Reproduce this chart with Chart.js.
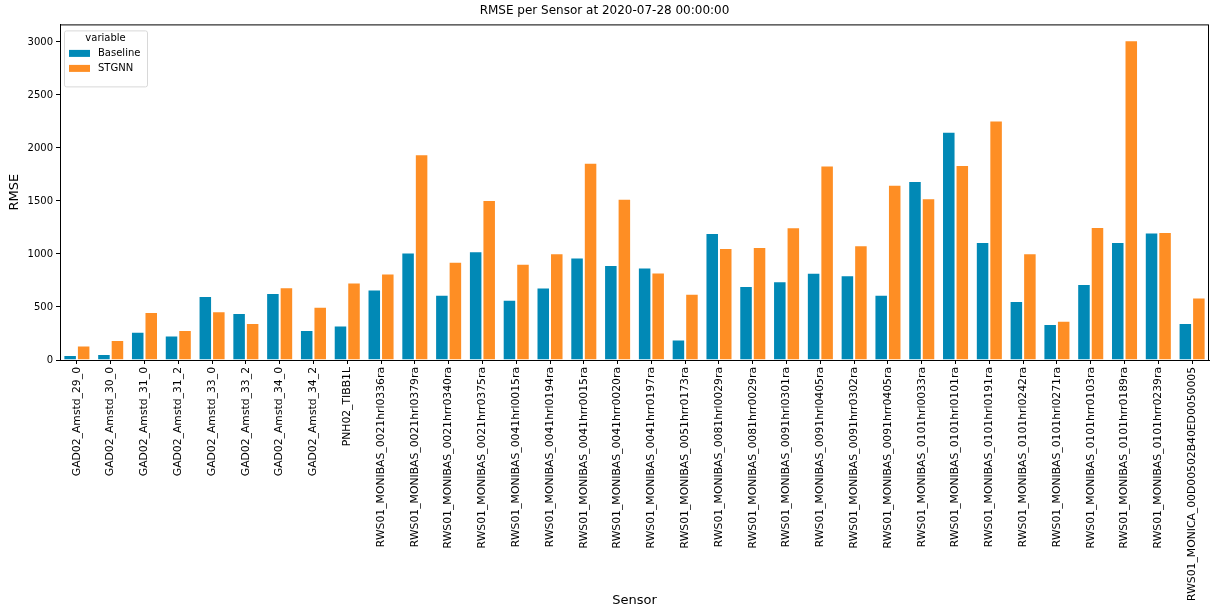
<!DOCTYPE html>
<html>
<head>
<meta charset="utf-8">
<script src="https://cdn.jsdelivr.net/npm/chart.js@4.4.1/dist/chart.umd.min.js"></script>
<style>
html,body{margin:0;padding:0;background:#fff;}
#wrap{width:1211px;height:611px;}
</style>
</head>
<body>
<div id="wrap"><canvas id="c" width="1211" height="611"></canvas></div>
<script>
const sensors = [
  "GAD02_Amstd_29_0","GAD02_Amstd_30_0","GAD02_Amstd_31_0","GAD02_Amstd_31_2",
  "GAD02_Amstd_33_0","GAD02_Amstd_33_2","GAD02_Amstd_34_0","GAD02_Amstd_34_2",
  "PNH02_TIBB1L",
  "RWS01_MONIBAS_0021hrl0336ra","RWS01_MONIBAS_0021hrl0379ra","RWS01_MONIBAS_0021hrr0340ra",
  "RWS01_MONIBAS_0021hrr0375ra","RWS01_MONIBAS_0041hrl0015ra","RWS01_MONIBAS_0041hrl0194ra",
  "RWS01_MONIBAS_0041hrr0015ra","RWS01_MONIBAS_0041hrr0020ra","RWS01_MONIBAS_0041hrr0197ra",
  "RWS01_MONIBAS_0051hrr0173ra","RWS01_MONIBAS_0081hrl0029ra","RWS01_MONIBAS_0081hrr0029ra",
  "RWS01_MONIBAS_0091hrl0301ra","RWS01_MONIBAS_0091hrl0405ra","RWS01_MONIBAS_0091hrr0302ra",
  "RWS01_MONIBAS_0091hrr0405ra","RWS01_MONIBAS_0101hrl0033ra","RWS01_MONIBAS_0101hrl0101ra",
  "RWS01_MONIBAS_0101hrl0191ra","RWS01_MONIBAS_0101hrl0242ra","RWS01_MONIBAS_0101hrl0271ra",
  "RWS01_MONIBAS_0101hrr0103ra","RWS01_MONIBAS_0101hrr0189ra","RWS01_MONIBAS_0101hrr0239ra",
  "RWS01_MONICA_00D00502B40ED0050005"
];
const baseline = [47,56,266,232,603,443,631,282,326,665,1013,615,1026,568,684,966,897,872,194,1199,697,744,822,800,615,1688,2153,1114,556,339,718,1114,1202,348];
const stgnn    = [137,188,452,282,461,348,687,502,731,817,1940,926,1509,907,1007,1861,1522,825,624,1057,1067,1252,1836,1083,1654,1525,1839,2260,1007,370,1255,3016,1208,589];
const yTicks = [0,500,1000,1500,2000,2500,3000];

const FONT = "'DejaVu Sans', sans-serif";

const framePlugin = {
  id: 'frame',
  afterDraw(chart) {
    const {ctx, chartArea: a} = chart;
    ctx.save();
    ctx.strokeStyle = '#000';
    ctx.lineWidth = 1;
    ctx.strokeRect(a.left + 0.5, a.top + 0.5, a.right - a.left - 1, a.bottom - a.top);
    // legend inside, top-left
    const x0 = a.left + 4, y0 = a.top + 6, w = 83, h = 56;
    ctx.fillStyle = 'rgba(255,255,255,0.8)';
    ctx.strokeStyle = '#d8d8d8';
    ctx.lineWidth = 1;
    ctx.beginPath();
    if (ctx.roundRect) ctx.roundRect(x0 + 0.5, y0 + 0.5, w, h, 2); else ctx.rect(x0 + 0.5, y0 + 0.5, w, h);
    ctx.fill(); ctx.stroke();
    ctx.fillStyle = '#000';
    ctx.font = "10px " + FONT;
    ctx.textAlign = 'center';
    ctx.textBaseline = 'middle';
    ctx.fillText('variable', x0 + w / 2, y0 + 8);
    ctx.textAlign = 'left';
    chart.data.datasets.forEach((ds, i) => {
      const yy = y0 + 23 + i * 15;
      ctx.fillStyle = ds.backgroundColor;
      ctx.fillRect(x0 + 5, yy - 3.5, 21, 7);
      ctx.fillStyle = '#000';
      ctx.fillText(ds.label, x0 + 34, yy);
    });
    ctx.restore();
  }
};

new Chart(document.getElementById('c'), {
  type: 'bar',
  data: {
    labels: sensors,
    datasets: [
      { label: 'Baseline', data: baseline, backgroundColor: '#0189b6', borderColor: 'rgba(255,255,255,0.35)', borderWidth: 1, categoryPercentage: 0.8, barPercentage: 1.0 },
      { label: 'STGNN', data: stgnn, backgroundColor: '#fe8e24', borderColor: 'rgba(255,255,255,0.35)', borderWidth: 1, categoryPercentage: 0.8, barPercentage: 1.0 }
    ]
  },
  options: {
    responsive: false,
    animation: false,
    devicePixelRatio: 1,
    layout: { padding: { left: 0, right: 2, top: 0, bottom: 0 } },
    plugins: {
      legend: { display: false },
      tooltip: { enabled: false },
      title: {
        display: true,
        text: 'RMSE per Sensor at 2020-07-28 00:00:00',
        color: '#000',
        font: { family: FONT, size: 12, weight: 'normal' },
        padding: { top: 4, bottom: 6 }
      }
    },
    scales: {
      x: {
        offset: true,
        grid: { display: true, drawOnChartArea: false, drawTicks: true, tickLength: 4, color: '#000', offset: false },
        border: { display: true, color: '#000' },
        ticks: {
          autoSkip: false, maxRotation: 90, minRotation: 90, color: '#000', padding: 3,
          font: { family: FONT, size: 10.8 }
        },
        title: { display: true, text: 'Sensor', color: '#000', font: { family: FONT, size: 13 }, padding: { top: 4, bottom: 3 } },
        afterFit(scale) { scale.height = 251; }
      },
      y: {
        min: 0, max: 3166,
        grid: { display: true, drawOnChartArea: false, drawTicks: true, tickLength: 4, color: '#000' },
        border: { display: true, color: '#000' },
        ticks: {
          color: '#000', padding: 3,
          font: { family: FONT, size: 10 },
          callback: (v) => String(v)
        },
        afterBuildTicks(scale) { scale.ticks = yTicks.map(v => ({ value: v })); },
        title: { display: true, text: 'RMSE', color: '#000', font: { family: FONT, size: 13 }, padding: { top: 7, bottom: 4 } },
        afterFit(scale) { scale.width = 60; }
      }
    }
  },
  plugins: [framePlugin]
});
</script>
</body>
</html>
